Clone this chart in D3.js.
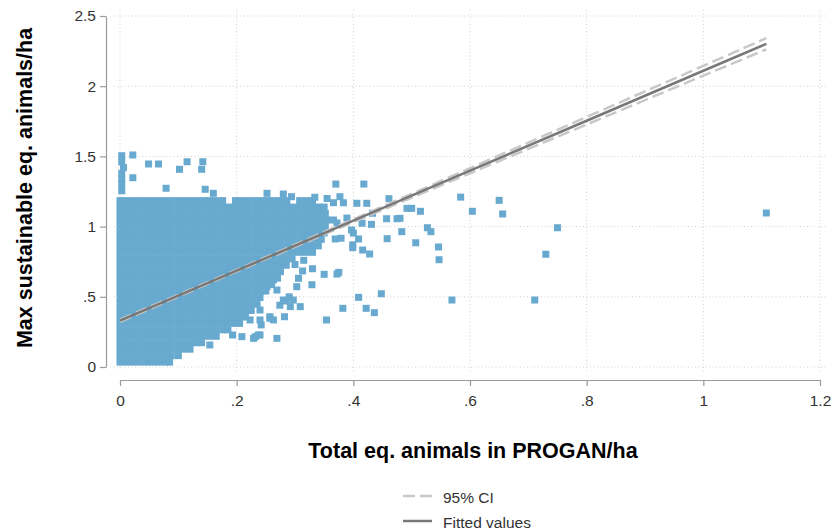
<!DOCTYPE html>
<html><head><meta charset="utf-8">
<script src="https://cdn.jsdelivr.net/npm/d3@7"></script>
<style>body{margin:0;background:#fff} svg{display:block}</style>
</head><body><svg id="c" width="838" height="531"></svg>
<script>
// ---- axis ticks ----
const xTicks = [0, 0.2, 0.4, 0.6, 0.8, 1, 1.2];
const xTickLabels = ["0", ".2", ".4", ".6", ".8", "1", "1.2"];
const yTicks = [0, 0.5, 1, 1.5, 2, 2.5];
const yTickLabels = ["0", ".5", "1", "1.5", "2", "2.5"];

// ---- dense part of the scatter (read row by row from the solid blue cloud) ----
const clusterRowY = [0.035,0.081,0.127,0.173,0.219,0.265,0.311,0.357,0.403,0.449,0.495,0.541,0.587,0.633,0.679,0.725,0.771,0.817,0.863,0.909,0.955,1.001,1.047,1.093,1.139,1.185];
const clusterRowX = [
 [0,.011,.022,.033,.044,.055,.066,.077,.085],
 [0,.011,.022,.033,.044,.055,.066,.077,.088,.1],
 [0,.011,.022,.033,.044,.055,.066,.077,.088,.099,.11,.12],
 [0,.011,.022,.033,.044,.055,.066,.077,.088,.099,.11,.121,.132,.14],
 [0,.011,.022,.033,.044,.055,.066,.077,.088,.099,.11,.121,.132,.143,.154,.165],
 [0,.011,.022,.033,.044,.055,.066,.077,.088,.099,.11,.121,.132,.143,.154,.165,.176,.185],
 [0,.011,.022,.033,.044,.055,.066,.077,.088,.099,.11,.121,.132,.143,.154,.165,.176,.187,.198,.205],
 [0,.011,.022,.033,.044,.055,.066,.077,.088,.099,.11,.121,.132,.143,.154,.165,.176,.187,.198,.209,.215],
 [0,.011,.022,.033,.044,.055,.066,.077,.088,.099,.11,.121,.132,.143,.154,.165,.176,.187,.198,.209,.22,.225],
 [0,.011,.022,.033,.044,.055,.066,.077,.088,.099,.11,.121,.132,.143,.154,.165,.176,.187,.198,.209,.22,.231,.235],
 [0,.011,.022,.033,.044,.055,.066,.077,.088,.099,.11,.121,.132,.143,.154,.165,.176,.187,.198,.209,.22,.231,.24],
 [0,.011,.022,.033,.044,.055,.066,.077,.088,.099,.11,.121,.132,.143,.154,.165,.176,.187,.198,.209,.22,.231,.242,.25],
 [0,.011,.022,.033,.044,.055,.066,.077,.088,.099,.11,.121,.132,.143,.154,.165,.176,.187,.198,.209,.22,.231,.242,.253,.26],
 [0,.011,.022,.033,.044,.055,.066,.077,.088,.099,.11,.121,.132,.143,.154,.165,.176,.187,.198,.209,.22,.231,.242,.253,.264,.27],
 [0,.011,.022,.033,.044,.055,.066,.077,.088,.099,.11,.121,.132,.143,.154,.165,.176,.187,.198,.209,.22,.231,.242,.253,.264,.275],
 [0,.011,.022,.033,.044,.055,.066,.077,.088,.099,.11,.121,.132,.143,.154,.165,.176,.187,.198,.209,.22,.231,.242,.253,.264,.275,.285],
 [0,.011,.022,.033,.044,.055,.066,.077,.088,.099,.11,.121,.132,.143,.154,.165,.176,.187,.198,.209,.22,.231,.242,.253,.264,.275,.286,.295],
 [0,.011,.022,.033,.044,.055,.066,.077,.088,.099,.11,.121,.132,.143,.154,.165,.176,.187,.198,.209,.22,.231,.242,.253,.264,.275,.286,.297,.308,.319,.33],
 [0,.011,.022,.033,.044,.055,.066,.077,.088,.099,.11,.121,.132,.143,.154,.165,.176,.187,.198,.209,.22,.231,.242,.253,.264,.275,.286,.297,.308,.319,.33,.34],
 [0,.011,.022,.033,.044,.055,.066,.077,.088,.099,.11,.121,.132,.143,.154,.165,.176,.187,.198,.209,.22,.231,.242,.253,.264,.275,.286,.297,.308,.319,.33,.341,.345],
 [0,.011,.022,.033,.044,.055,.066,.077,.088,.099,.11,.121,.132,.143,.154,.165,.176,.187,.198,.209,.22,.231,.242,.253,.264,.275,.286,.297,.308,.319,.33,.341,.35],
 [0,.011,.022,.033,.044,.055,.066,.077,.088,.099,.11,.121,.132,.143,.154,.165,.176,.187,.198,.209,.22,.231,.242,.253,.264,.275,.286,.297,.308,.319,.33,.341,.352],
 [0,.011,.022,.033,.044,.055,.066,.077,.088,.099,.11,.121,.132,.143,.154,.165,.176,.187,.198,.209,.22,.231,.242,.253,.264,.275,.286,.297,.308,.319,.33,.341,.352],
 [0,.011,.022,.033,.044,.055,.066,.077,.088,.099,.11,.121,.132,.143,.154,.165,.176,.187,.198,.209,.22,.231,.242,.253,.264,.275,.286,.297,.308,.319,.33,.341,.352],
 [0,.011,.022,.033,.044,.055,.066,.077,.088,.099,.11,.121,.132,.143,.154,.165,.176,.187,.198,.209,.22,.231,.242,.253,.264,.275,.286,.297,.308,.319,.33,.341,.35],
 [0,.011,.022,.033,.044,.055,.066,.077,.088,.099,.11,.121,.132,.143,.154,.165,.176,.198,.209,.22,.231,.242,.253,.264,.275,.286,.308,.319,.33]
];

// ---- isolated points around the cloud ----
const sparseX = [0.003,0.003,0.006,0.003,0.003,0.003,0.003,0.022,0.049,0.066,0.102,0.115,0.142,0.140,0.022,0.079,0.146,0.160,0.252,0.280,0.294,0.334,0.355,0.370,0.418,0.461,0.492,0.500,0.515,0.457,0.475,0.431,0.483,0.527,0.533,0.458,0.507,0.546,0.547,0.409,0.399,0.399,0.416,0.428,0.369,0.379,0.350,0.372,0.375,0.329,0.409,0.448,0.382,0.422,0.436,0.354,0.269,0.313,0.306,0.303,0.290,0.285,0.274,0.309,0.282,0.257,0.263,0.242,0.237,0.229,0.209,0.193,0.154,0.584,0.650,0.604,0.656,0.750,0.730,0.711,0.569,1.108,0.480,0.377,0.383,0.366,0.355,0.366,0.372,0.389,0.400,0.406,0.423,0.433,0.415,0.397,0.232,0.240,0.257,0.240,0.223,0.297,0.280,0.292,0.263,0.269,0.252,0.223,0.240,0.330,0.300,0.315];
const sparseY = [1.505,1.46,1.42,1.38,1.34,1.30,1.255,1.51,1.446,1.446,1.408,1.462,1.462,1.408,1.348,1.273,1.266,1.237,1.237,1.232,1.213,1.209,1.20,1.303,1.303,1.199,1.13,1.13,1.109,1.056,1.056,1.016,0.964,0.992,0.964,0.914,0.885,0.855,0.764,0.912,0.85,0.87,0.833,0.805,0.912,0.917,0.66,0.662,0.674,0.586,0.496,0.522,0.418,0.418,0.387,0.335,0.204,0.684,0.632,0.572,0.50,0.47,0.44,0.43,0.358,0.358,0.335,0.30,0.228,0.204,0.216,0.228,0.157,1.21,1.187,1.109,1.09,0.992,0.803,0.477,0.477,1.097,1.059,1.213,1.17,1.17,1.047,1.047,1.026,1.061,0.954,1.166,1.166,1.095,1.024,0.976,0.216,0.228,0.347,0.335,0.335,0.477,0.477,0.43,0.62,0.548,0.572,0.43,0.406,0.70,0.73,0.76];

// ---- fitted line and 95% CI ----
const fitX  = [0, 0.2, 0.4, 0.6, 0.8, 1.0, 1.108];
const fitY  = [0.33, 0.686, 1.042, 1.398, 1.754, 2.11, 2.302];
const ciLow = [0.322, 0.680, 1.032, 1.380, 1.727, 2.075, 2.262];
const ciHigh= [0.338, 0.692, 1.052, 1.416, 1.781, 2.145, 2.342];

const legendLabels = ["95% CI", "Fitted values"];
const xTitle = "Total eq. animals in PROGAN/ha";
const yTitle = "Max sustainable eq. animals/ha";

// ---- drawing ----
const FONT = "'Liberation Sans', Arial, sans-serif";
const COL_PT = "#68a9cf", COL_FIT = "#787878", COL_CI = "#c8c8c8", COL_GRID = "#d2d2d2", COL_AX = "#9a9a9a";
const svg = d3.select("#c");
const x = d3.scaleLinear().domain([0, 1.2]).range([120, 820]);
const y = d3.scaleLinear().domain([0, 2.5]).range([367, 16]);

const grid = svg.append("g");
grid.selectAll("line.h").data(yTicks).join("line").attr("class","h")
  .attr("x1", 114).attr("x2", 826).attr("y1", d => y(d)).attr("y2", d => y(d))
  .attr("stroke", COL_GRID).attr("stroke-width", 1).attr("stroke-dasharray", "1,2.5");
grid.selectAll("line.v").data(xTicks).join("line").attr("class","v")
  .attr("y1", 10).attr("y2", 373).attr("x1", d => x(d)).attr("x2", d => x(d))
  .attr("stroke", COL_GRID).attr("stroke-width", 1).attr("stroke-dasharray", "1,2.5");

const pts = [];
clusterRowY.forEach((yy, i) => clusterRowX[i].forEach(xx => pts.push([xx, yy])));
sparseX.forEach((xx, i) => pts.push([xx, sparseY[i]]));
svg.append("g").selectAll("rect").data(pts).join("rect")
  .attr("x", d => x(d[0]) - 3.5).attr("y", d => y(d[1]) - 3.5)
  .attr("width", 7).attr("height", 7).attr("fill", COL_PT);

const line = d3.line().x(d => x(d[0])).y(d => y(d[1]));
[ciLow, ciHigh].forEach(arr => {
  svg.append("path").datum(fitX.map((v, i) => [v, arr[i]])).attr("d", line)
    .attr("fill", "none").attr("stroke", COL_CI).attr("stroke-width", 2.5).attr("stroke-dasharray", "12,5");
});
svg.append("path").datum(fitX.map((v, i) => [v, fitY[i]])).attr("d", line)
  .attr("fill", "none").attr("stroke", COL_FIT).attr("stroke-width", 2.5);

// axes
const yAxis = d3.axisLeft(y).tickValues(yTicks).tickFormat((d, i) => yTickLabels[i]).tickSize(6).tickSizeOuter(0).tickPadding(4);
const gy = svg.append("g").attr("transform", "translate(106,0)").call(yAxis);
const xAxis = d3.axisBottom(x).tickValues(xTicks).tickFormat((d, i) => xTickLabels[i]).tickSize(6).tickSizeOuter(0).tickPadding(9);
const gx = svg.append("g").attr("transform", "translate(0,380)").call(xAxis);
[gx, gy].forEach(g => {
  g.select(".domain").attr("stroke", COL_AX).attr("stroke-width", 1.2);
  g.selectAll(".tick line").attr("stroke", COL_AX).attr("stroke-width", 1.2);
  g.selectAll(".tick text").attr("fill", "#333").style("font-family", FONT).style("font-size", "15.5px");
});

// titles
svg.append("text").attr("x", 473).attr("y", 458).attr("text-anchor", "middle")
  .style("font-family", FONT).style("font-weight", "bold").style("font-size", "21.5px").attr("fill", "#000").text(xTitle);
svg.append("text").attr("transform", "translate(32,188) rotate(-90)").attr("text-anchor", "middle")
  .style("font-family", FONT).style("font-weight", "bold").style("font-size", "21.5px").attr("fill", "#000").text(yTitle);

// legend
const leg = svg.append("g");
const legY = [496, 521];
leg.append("line").attr("x1", 403).attr("x2", 432).attr("y1", legY[0]).attr("y2", legY[0])
  .attr("stroke", COL_CI).attr("stroke-width", 2.5).attr("stroke-dasharray", "12,5");
leg.append("line").attr("x1", 403).attr("x2", 432).attr("y1", legY[1]).attr("y2", legY[1])
  .attr("stroke", COL_FIT).attr("stroke-width", 2.5);
leg.selectAll("text").data(legendLabels).join("text")
  .attr("x", 443).attr("y", (d, i) => legY[i] + 7)
  .style("font-family", FONT).style("font-size", "15.5px").attr("fill", "#333").text(d => d);
</script></body></html>
